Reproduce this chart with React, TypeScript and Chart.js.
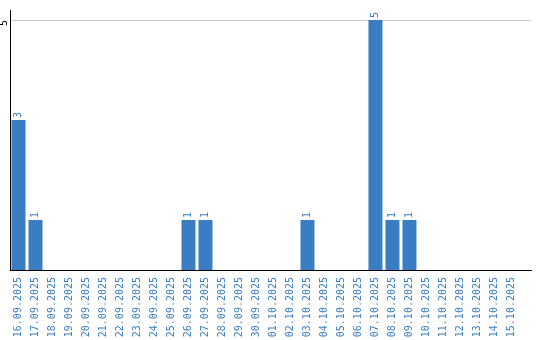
import React, { useEffect, useRef } from "react";
import { Chart, registerables } from "chart.js";

Chart.register(...registerables);

const categories: string[] = [
  "16.09.2025", "17.09.2025", "18.09.2025", "19.09.2025", "20.09.2025",
  "21.09.2025", "22.09.2025", "23.09.2025", "24.09.2025", "25.09.2025",
  "26.09.2025", "27.09.2025", "28.09.2025", "29.09.2025", "30.09.2025",
  "01.10.2025", "02.10.2025", "03.10.2025", "04.10.2025", "05.10.2025",
  "06.10.2025", "07.10.2025", "08.10.2025", "09.10.2025", "10.10.2025",
  "11.10.2025", "12.10.2025", "13.10.2025", "14.10.2025", "15.10.2025",
];

const counts: number[] = [
  3, 1, 0, 0, 0, 0, 0, 0, 0, 0,
  1, 1, 0, 0, 0, 0, 0, 1, 0, 0,
  0, 5, 1, 1, 0, 0, 0, 0, 0, 0,
];

const yTickValues: number[] = [5];

const BLUE = "#3b7dc3";
const FONT = "DejaVu Sans Mono";

const labelsPlugin = {
  id: "rotatedLabels",
  afterDatasetsDraw(chart: any) {
    const ctx = chart.ctx;
    const meta = chart.getDatasetMeta(0);
    ctx.save();
    ctx.font = `10px "${FONT}"`;
    ctx.fillStyle = BLUE;
    ctx.textAlign = "left";
    ctx.textBaseline = "middle";
    meta.data.forEach((bar: any, i: number) => {
      const v = counts[i];
      if (!v) return;
      ctx.save();
      ctx.translate(bar.x, bar.y - 2);
      ctx.rotate(-Math.PI / 2);
      ctx.fillText(String(v), 0, 0);
      ctx.restore();
    });
    const ys = chart.scales.y;
    ctx.fillStyle = "#000";
    ctx.textAlign = "center";
    yTickValues.forEach((t) => {
      const py = ys.getPixelForValue(t);
      ctx.save();
      ctx.translate(4, py + 3);
      ctx.rotate(-Math.PI / 2);
      ctx.fillText(String(t), 0, 0);
      ctx.restore();
    });
    ctx.restore();
  },
};

export default function App() {
  const ref = useRef<HTMLCanvasElement | null>(null);
  useEffect(() => {
    document.body.style.margin = "0";
    if (!ref.current) return;
    Chart.defaults.font.family = FONT;
    const chart = new Chart(ref.current, {
      type: "bar",
      data: {
        datasets: [
          {
            data: counts.map((v, i) => ({ x: i, y: v })),
            backgroundColor: BLUE,
            borderWidth: 0,
            barPercentage: 14 / 17,
            categoryPercentage: 1,
          },
        ],
      },
      options: {
        animation: false,
        responsive: false,
        maintainAspectRatio: false,
        layout: { padding: { top: 10, right: 9, left: 0, bottom: 0 } },
        plugins: { legend: { display: false }, tooltip: { enabled: false } },
        scales: {
          x: {
            type: "linear",
            offset: false,
            min: -0.5,
            max: 30.15,
            grid: { display: false, drawTicks: false, offset: false },
            border: { display: true, color: "#000", width: 1 },
            afterBuildTicks: (scale: any) => {
              scale.ticks = categories.map((_, i) => ({ value: i }));
            },
            afterFit: (scale: any) => {
              scale.height = 70;
            },
            ticks: {
              autoSkip: false,
              maxRotation: 90,
              minRotation: 90,
              padding: 7,
              color: BLUE,
              font: { size: 10, family: FONT },
              callback: (v: any) => categories[v as number] ?? "",
            },
          },
          y: {
            min: 0,
            max: 5.2,
            afterBuildTicks: (scale: any) => {
              scale.ticks = yTickValues.map((v) => ({ value: v }));
            },
            afterFit: (scale: any) => {
              scale.width = 10;
            },
            grid: { color: "#cccccc", drawTicks: false },
            border: { display: true, color: "#000", width: 1 },
            ticks: { display: false },
          },
        },
      },
      plugins: [labelsPlugin],
    } as any);
    return () => chart.destroy();
  }, []);
  return (
    <div style={{ width: 540, height: 340 }}>
      <canvas ref={ref} width={540} height={340} style={{ display: "block" }} />
    </div>
  );
}
